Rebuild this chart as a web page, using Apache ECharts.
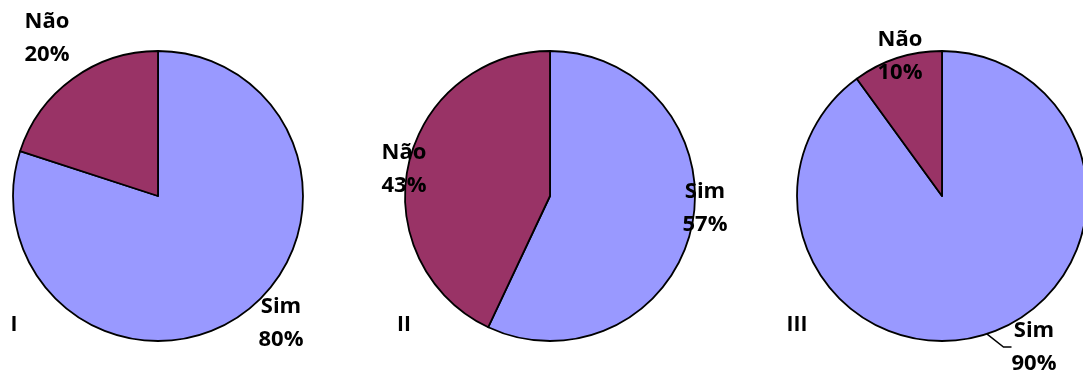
<!DOCTYPE html>
<html>
<head>
<meta charset="utf-8">
<script src="https://cdn.jsdelivr.net/npm/echarts@6/dist/echarts.min.js"></script>
<style>
  html, body { margin: 0; padding: 0; background: #fff; }
  #chart { width: 1083px; height: 373px; }
</style>
</head>
<body>
<div id="chart"></div>
<script>
// categories and values (percent), one pie per group
var categories = ['Sim', 'Não'];
var groupNames = ['I', 'II', 'III'];
var valuesI = [80, 20];
var valuesII = [57, 43];
var valuesIII = [90, 10];

var colors = ['#9999FF', '#993366'];

// pie placement and label anchor points (layout only)
var centers = [[158, 196], [550, 196], [942, 196]];
var labelPos = [
  [[281, 323], [47, 38]],
  [[705, 208], [404, 169]],
  [[1034, 347], [900, 56]]
];
var groupLabelPos = [[14, 325], [404, 325], [797, 325]];

var chartDom = document.getElementById('chart');
var myChart = echarts.init(chartDom);

function makeSeries(values, idx) {
  return {
    type: 'pie',
    center: centers[idx],
    radius: 145,
    startAngle: 90,
    clockwise: true,
    animation: false,
    silent: true,
    itemStyle: {
      borderColor: '#000',
      borderWidth: 1.8
    },
    label: {
      show: true,
      position: 'outside',
      overflow: 'none',
      formatter: '{b}\n{c}%',
      fontFamily: 'Open Sans',
      fontWeight: 'bold',
      fontSize: 22,
      lineHeight: 33,
      color: '#000'
    },
    labelLine: { show: false, lineStyle: { color: '#000', width: 1.5 } },
    labelLayout: function (params) {
      var p = labelPos[idx][params.dataIndex];
      return { x: p[0], y: p[1], align: 'center', verticalAlign: 'middle' };
    },
    data: categories.map(function (c, i) {
      var d = { name: c, value: values[i], itemStyle: { color: colors[i] } };
      if (idx === 2 && i === 0) {
        d.labelLine = { show: true, length: 6, length2: 8 };
      }
      return d;
    })
  };
}

var option = {
  backgroundColor: '#fff',
  graphic: groupNames.map(function (g, i) {
    return {
      type: 'text',
      x: groupLabelPos[i][0],
      y: groupLabelPos[i][1],
      style: {
        text: g,
        fontFamily: 'Open Sans',
        fontWeight: 'bold',
        fontSize: 21,
        fill: '#000',
        align: 'center',
        verticalAlign: 'middle'
      }
    };
  }),
  series: [
    makeSeries(valuesI, 0),
    makeSeries(valuesII, 1),
    makeSeries(valuesIII, 2)
  ]
};

option && myChart.setOption(option);
</script>
</body>
</html>
